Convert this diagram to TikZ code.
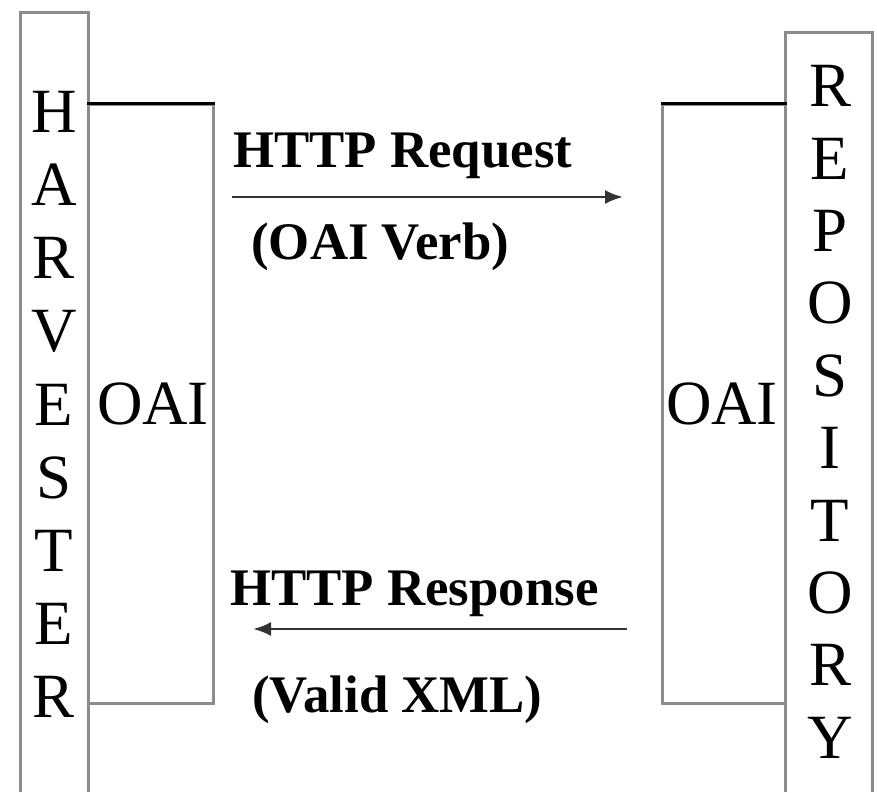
\documentclass[tikz,border=0pt]{standalone}
\usepackage{fontspec}
\setmainfont{Liberation Serif}
\usetikzlibrary{arrows.meta}

\tikzset{
  boxline/.style={draw=gray!90,line width=1.5pt},
  letter/.style={inner sep=0pt,font=\fontsize{31.5}{32}\selectfont},
  msg/.style={inner sep=0pt,anchor=base west,font=\fontsize{26.4}{27}\selectfont\bfseries},
  flow/.style={draw=black!80,line width=1.3pt,-{Latex[length=9pt,width=7pt]}}
}

\begin{document}
\begin{tikzpicture}[x=0.5pt,y=-0.5pt]
\useasboundingbox (0,0) rectangle (877,792);
% tall outer boxes
\draw[boxline] (20,792) |- (88,13) -- (88,792);
\draw[boxline] (785,792) |- (872,33) -- (872,792);
% OAI layers
\node[boxline,minimum width=62.5pt,minimum height=299pt,inner sep=0pt] (harvoai) at (150.5,404) {};
\node[boxline,minimum width=61.5pt,minimum height=299pt,inner sep=0pt] (repooai) at (723.5,404) {};
\draw[black,line width=1.8pt] (harvoai.north west) -- (harvoai.north east);
\draw[black,line width=1.8pt] (repooai.north west) -- (repooai.north east);
\node[letter] (harvlbl) at (153,404) {OAI};
\node[letter] (repolbl) at (722,404) {OAI};
% vertical names
\foreach \l [count=\i from 0] in {H,A,R,V,E,S,T,E,R}
  \node[letter] (harv\i) at (54,112+73.1*\i) {\l};
\foreach \l [count=\i from 0] in {R,E,P,O,S,I,T,O,R,Y}
  \node[letter] (repo\i) at (830,86+72.4*\i) {\l};
% messages
\coordinate (reqa) at (232,197);
\coordinate (reqb) at (623,197);
\coordinate (resa) at (627,629);
\coordinate (resb) at (253,629);
\draw[flow] (reqa) -- (reqb);
\draw[flow] (resa) -- (resb);
\node[msg] (reqtop) at (233,167) {HTTP Request};
\node[msg] (reqbot) at (251,259) {(OAI Verb)};
\node[msg] (restop) at (230,605) {HTTP Response};
\node[msg] (resbot) at (252,712) {(Valid XML)};
\end{tikzpicture}
\end{document}
